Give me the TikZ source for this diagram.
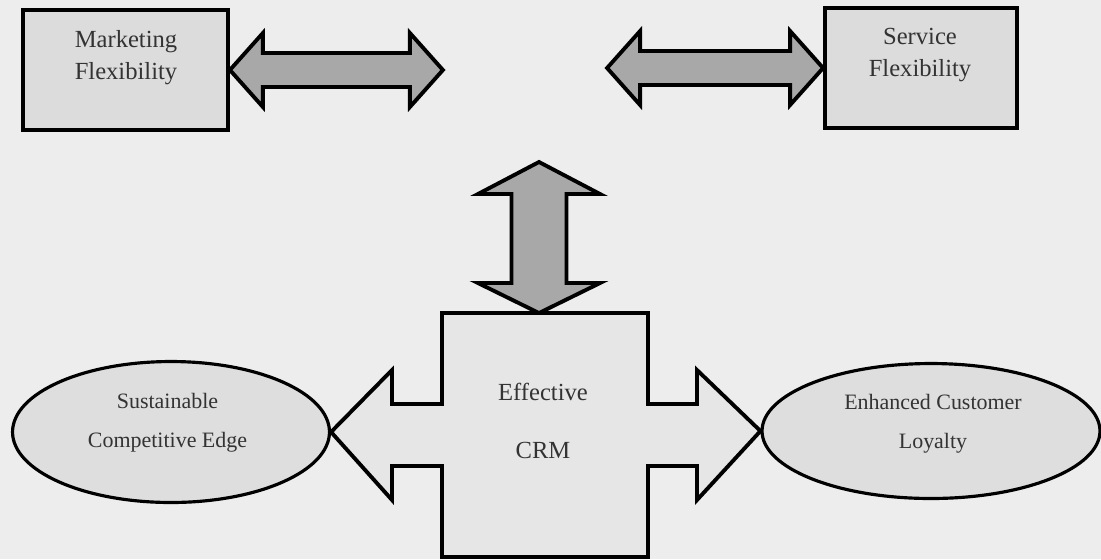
\documentclass[tikz,border=0pt]{standalone}
\usepackage{fontspec}
\setmainfont{Liberation Serif}
\usepackage{tikz}
\usetikzlibrary{calc,shapes.geometric}

\definecolor{bgcol}{HTML}{EDEDED}
\definecolor{boxcol}{HTML}{DCDCDC}
\definecolor{arrowcol}{HTML}{A8A8A8}
\definecolor{crmcol}{HTML}{E6E6E6}
\definecolor{ovalcol}{HTML}{DEDEDE}
\definecolor{txtcol}{HTML}{333333}

\tikzset{
	flexbox/.style={rectangle, draw=black, fill=boxcol, line width=2.2pt, minimum height=2.4cm},
	oval/.style={ellipse, draw=black, fill=ovalcol, line width=1.8pt, inner sep=0pt},
	crmbox/.style={rectangle, minimum width=4.12cm, minimum height=4.88cm, outer sep=0pt},
	blockarrow/.style={draw=black, fill=arrowcol, line width=2.2pt, line join=miter},
	crmline/.style={draw=black, fill=crmcol, line width=2.2pt, line join=miter},
	boxtext/.style={align=center, text=txtcol, font=\fontsize{14}{18.2}\selectfont},
	ovaltext/.style={align=center, text=txtcol, font=\fontsize{12.5}{22.2}\selectfont},
}

\begin{document}
\begin{tikzpicture}[x=0.02cm, y=-0.02cm]
		\fill[bgcol] (0, 0) rectangle (1101, 559);
		\useasboundingbox (0, 0) rectangle (1101, 559);

		% top boxes
		\node[flexbox, minimum width=4.1cm] (mkt) at (125.5, 70) {};
		\node[flexbox, minimum width=3.84cm] (svc) at (921, 68) {};
		\node[boxtext] (mkttxt) at (126, 58) {Marketing\\Flexibility};
		\node[boxtext] (svctxt) at (920, 55) {Service\\Flexibility};

		% ovals and the centre box
		\node[oval, minimum width=6.34cm, minimum height=2.82cm] (sce) at (171, 432) {};
		\node[oval, minimum width=6.76cm, minimum height=2.7cm] (ecl) at (931, 431) {};
		\node[crmbox] (crm) at (545, 435) {};

		\coordinate (lend) at ($(mkt.east)+(213, 0)$);
		\coordinate (rend) at ($(svc.west)+(-216, 0)$);
		\coordinate (vtop) at (539, 162);
		\coordinate (vbot) at (vtop |- crm.north);

		\foreach \a/\b in {mkt.east/lend, rend/svc.west} {
			\draw[blockarrow]
				(\a) -- ++(33, -37) -- ++(0, 20) -- ($(\b)+(-33, -17)$) -- ++(0, -20)
				-- (\b) -- ++(-33, 37) -- ++(0, -20) -- ($(\a)+(33, 17)$) -- ++(0, 20)
				-- cycle;
		}

		\draw[blockarrow]
			(vtop) -- ++(61, 32) -- ++(-33.5, 0) -- ($(vbot)+(27.5, -30)$) -- ++(33.5, 0)
			-- (vbot) -- ++(-61, -30) -- ++(33.5, 0) -- ($(vtop)+(-27.5, 32)$) -- ++(-33.5, 0)
			-- cycle;

		\draw[crmline]
			(crm.north west) -- (crm.north east)
			-- ($(crm.east)+(0, -31)$) -- ++(49, 0) -- ++(0, -34) -- (ecl.west)
			-- ($(crm.east)+(49, 65)$) -- ++(0, -34) -- ($(crm.east)+(0, 31)$)
			-- (crm.south east) -- (crm.south west)
			-- ($(crm.west)+(0, 31)$) -- ++(-50, 0) -- ++(0, 34) -- (sce.east)
			-- ($(crm.west)+(-50, -65)$) -- ++(0, 34) -- ($(crm.west)+(0, -31)$)
			-- cycle;

		\node[boxtext, font=\fontsize{14}{33}\selectfont] (crmtxt) at (543, 421) {Effective\\CRM};
		\node[ovaltext] (scetxt) at (167.5, 422.5) {Sustainable\\Competitive Edge};
		\node[ovaltext] (ecltxt) at (933, 424) {Enhanced Customer\\Loyalty};
	\end{tikzpicture}
\end{document}
